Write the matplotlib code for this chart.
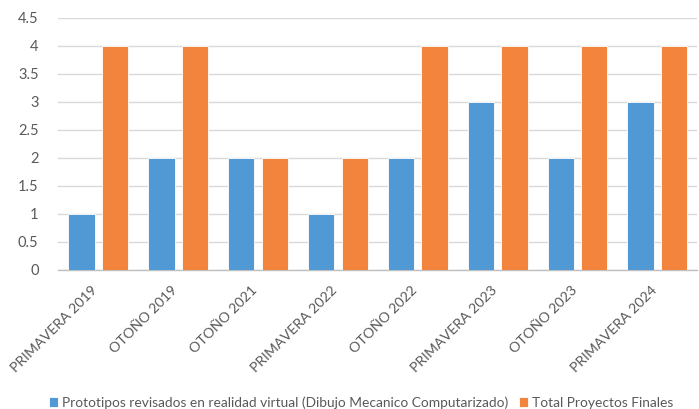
import matplotlib
matplotlib.use("Agg")
import matplotlib.pyplot as plt
import numpy as np

categories = ["PRIMAVERA 2019", "OTOÑO 2019", "OTOÑO 2021", "PRIMAVERA 2022",
              "OTOÑO 2022", "PRIMAVERA 2023", "OTOÑO 2023", "PRIMAVERA 2024"]
prototipos = [1, 2, 2, 1, 2, 3, 2, 3]
total_proyectos = [4, 4, 2, 2, 4, 4, 4, 4]
series_names = ["Prototipos revisados en realidad virtual (Dibujo Mecanico Computarizado)",
                "Total Proyectos Finales"]
yticks = [0, 0.5, 1, 1.5, 2, 2.5, 3, 3.5, 4, 4.5]

plt.rcParams["font.family"] = ["Lato", "DejaVu Sans"]
text_color = "#595959"
blue = "#5199D5"
orange = "#F2843D"

fig = plt.figure(figsize=(6.99, 4.09), dpi=100)
ax = fig.add_axes([0.083, 0.34, 0.914, 0.616])

x = np.arange(len(categories))
w = 0.33
ax.bar(x - 0.205, prototipos, w, color=blue, edgecolor="white", linewidth=0.6,
       label=series_names[0], zorder=3)
ax.bar(x + 0.215, total_proyectos, w, color=orange, edgecolor="white", linewidth=0.6,
       label=series_names[1], zorder=3)

ax.set_xlim(-0.5, len(categories) - 0.5)
ax.set_ylim(0, 4.5)
ax.set_yticks(yticks)
ax.set_yticklabels([f"{t:g}" for t in yticks], fontsize=10.5, color=text_color)
ax.yaxis.grid(True, color="#D9D9D9", linewidth=1, zorder=0)
ax.tick_params(axis="y", length=0, pad=14)
ax.tick_params(axis="x", length=0, pad=6)

ax.set_xticks(x - 0.03)
ax.set_xticklabels(categories, rotation=45, ha="right", va="center",
                   rotation_mode="anchor", fontsize=10.2, color=text_color)
for lbl in ax.get_xticklabels():
    lbl.set_position((0, -0.04))

for side in ["top", "right", "left"]:
    ax.spines[side].set_visible(False)
ax.spines["bottom"].set_color("#BFBFBF")
ax.spines["bottom"].set_linewidth(1)

leg = fig.legend(loc="lower center", bbox_to_anchor=(0.517, -0.03), ncol=2, frameon=False,
                 fontsize=9.9, handlelength=0.65, handleheight=0.65, handletextpad=0.3,
                 columnspacing=0.8)
for t in leg.get_texts():
    t.set_color(text_color)

fig.savefig("out.png", dpi=100)
